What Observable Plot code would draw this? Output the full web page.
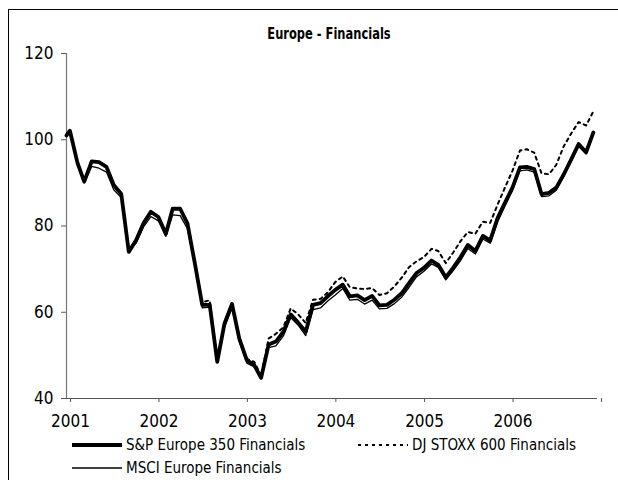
<!DOCTYPE html>
<html><head><meta charset="utf-8">
<script src="https://cdn.jsdelivr.net/npm/d3@7"></script>
<script src="https://cdn.jsdelivr.net/npm/@observablehq/plot@0.6"></script>
<style>
body{margin:0;background:#fff;}
#wrap{position:relative;width:618px;height:480px;overflow:hidden;font-family:"Liberation Sans Narrow","Arial Narrow","DejaVu Sans Condensed",sans-serif;color:#000;}
#chart{position:absolute;left:0;top:0;}
#frame{position:absolute;left:8px;top:9px;width:700px;height:600px;border:1.5px solid #000;pointer-events:none;}
#title{position:absolute;top:25px;left:0;width:658px;text-align:center;font-weight:bold;font-size:15px;transform:scaleX(0.85);transform-origin:329px 0;}
.leg{position:absolute;font-size:15px;display:flex;align-items:center;white-space:nowrap;}
.leg svg{margin-right:4px;}
</style>
</head><body>
<div id="wrap">
  <div id="chart"></div>
  <div id="title">Europe - Financials</div>
  <div id="legend"></div>
  <div id="frame"></div>
</div>
<script>
const title = "Europe - Financials";
const seriesNames = ["S&P Europe 350 Financials", "DJ STOXX 600 Financials", "MSCI Europe Financials"];
const yTicks = [40, 60, 80, 100, 120];
const yearTicks = [2001, 2002, 2003, 2004, 2005, 2006, 2007];

// first value = start of 2001, then monthly readings Jan 2001 .. Dec 2006
const sp350 = [101,
  102.1, 94.7, 90.3, 95.0, 94.8, 93.7, 89.5, 87.4, 74.0, 76.7, 80.7, 83.3,
  82.1, 78.2, 84.0, 84.0, 80.6, 71.2, 61.7, 61.7, 48.5, 57.4, 61.9, 53.9,
  48.9, 47.7, 44.8, 52.5, 53.2, 55.5, 59.5, 57.6, 55.5, 61.7, 62.1, 63.7,
  65.2, 66.4, 63.7, 63.9, 62.8, 63.8, 61.6, 61.7, 62.9, 64.4, 66.8, 69.1,
  70.3, 72.0, 71.0, 68.1, 70.3, 72.8, 75.6, 74.2, 77.7, 76.6, 81.9, 85.4,
  88.9, 93.6, 93.7, 93.2, 87.4, 87.7, 88.9, 92.0, 95.5, 99.0, 97.1, 101.7];
const stoxx600 = [101,
  102.1, 94.8, 90.4, 95.1, 94.9, 93.8, 89.6, 87.5, 74.2, 76.8, 80.8, 83.4,
  82.2, 78.3, 84.1, 84.1, 80.8, 71.5, 62.3, 62.8, 48.8, 57.6, 62.1, 54.3,
  49.2, 48.5, 45.2, 53.9, 55.0, 56.5, 60.9, 59.5, 57.5, 62.9, 63.1, 64.6,
  67.0, 68.3, 65.8, 65.5, 65.4, 65.6, 64.0, 64.4, 66.0, 68.0, 70.5, 71.8,
  72.8, 74.7, 74.2, 71.4, 73.8, 76.5, 78.6, 78.2, 81.0, 80.7, 85.0, 88.9,
  92.8, 97.5, 97.8, 97.0, 92.2, 92.0, 94.2, 98.5, 101.5, 104.1, 103.3, 106.6];
const msci = [101,
  101.8, 94.2, 90.0, 93.8, 93.4, 92.5, 88.4, 86.6, 74.5, 76.0, 79.8, 82.2,
  81.2, 77.6, 82.6, 82.4, 79.4, 70.5, 61.0, 61.2, 48.8, 56.5, 61.0, 53.2,
  48.2, 47.3, 45.0, 51.8, 52.2, 54.5, 58.8, 57.0, 54.6, 60.6, 61.0, 62.6,
  64.0, 65.5, 62.8, 63.0, 61.9, 62.8, 60.8, 60.9, 62.0, 63.5, 65.8, 68.2,
  69.5, 71.2, 70.4, 67.5, 69.6, 72.0, 74.8, 73.5, 77.0, 76.0, 81.0, 84.6,
  88.2, 92.8, 93.0, 92.5, 86.8, 87.0, 88.3, 91.5, 95.0, 98.5, 96.7, 101.3];

// dates: start of 2001, then mid-month points
const months = d3.utcMonth.range(new Date(Date.UTC(2001,0,1)), new Date(Date.UTC(2007,0,1)));
const dates = [new Date(Date.UTC(2001,0,1))].concat(months.map(m => d3.utcDay.offset(m, 14)));

const table = [];
[[seriesNames[0], sp350], [seriesNames[1], stoxx600], [seriesNames[2], msci]].forEach(([name, vals]) => {
  vals.forEach((v, i) => table.push({series: name, date: dates[i], value: v}));
});
const byName = n => table.filter(d => d.series === n);
const yearDates = yearTicks.map(y => new Date(Date.UTC(y,0,1)));

const chart = Plot.plot({
  width: 618, height: 480,
  marginLeft: 66, marginRight: 21, marginTop: 53, marginBottom: 82,
  style: {background: "transparent", fontFamily: '"Liberation Sans Narrow","Arial Narrow","DejaVu Sans Condensed",sans-serif', color: "#000"},
  x: {type: "utc", domain: [yearDates[0], yearDates[yearDates.length-1]]},
  y: {domain: [40, 120]},
  marks: [
    Plot.axisY({ticks: yTicks, tickSize: 5, tickPadding: 8, fontSize: 17, stroke: "#555", label: null, tickFormat: d => String(d)}),
    Plot.axisX({ticks: yearDates, tickSize: 4, tickPadding: 12, fontSize: 17, dx: 4, stroke: "#555", label: null,
      tickFormat: d => d.getUTCFullYear() < 2007 ? String(d.getUTCFullYear()) : ""}),
    Plot.ruleX([yearDates[0]], {stroke: "#777", strokeWidth: 1.2}),
    Plot.ruleY([40], {stroke: "#555", strokeWidth: 1.2}),
    Plot.line(byName(seriesNames[1]), {x: "date", y: "value", stroke: "#000", strokeWidth: 2, strokeDasharray: "3,4"}),
    Plot.line(byName(seriesNames[2]), {x: "date", y: "value", stroke: "#000", strokeWidth: 1.3}),
    Plot.line(byName(seriesNames[0]), {x: "date", y: "value", stroke: "#000", strokeWidth: 3.8})
  ]
});
document.getElementById("chart").appendChild(chart);

// legend
const legendItems = [
  {name: seriesNames[0], w: 3.8, dash: null, left: 72, top: 436},
  {name: seriesNames[1], w: 2, dash: "3,4", left: 358, top: 436},
  {name: seriesNames[2], w: 1.3, dash: null, left: 72, top: 459}
];
const legend = document.getElementById("legend");
legendItems.forEach(it => {
  const div = document.createElement("div");
  div.className = "leg";
  div.style.left = it.left + "px";
  div.style.top = it.top + "px";
  div.innerHTML = `<svg width="50" height="16"><line x1="0" x2="50" y1="8" y2="8" stroke="#000" stroke-width="${it.w}" ${it.dash ? `stroke-dasharray="${it.dash}"` : ""}/></svg><span>${it.name.replace("&","&amp;")}</span>`;
  legend.appendChild(div);
});
</script>
</body></html>
